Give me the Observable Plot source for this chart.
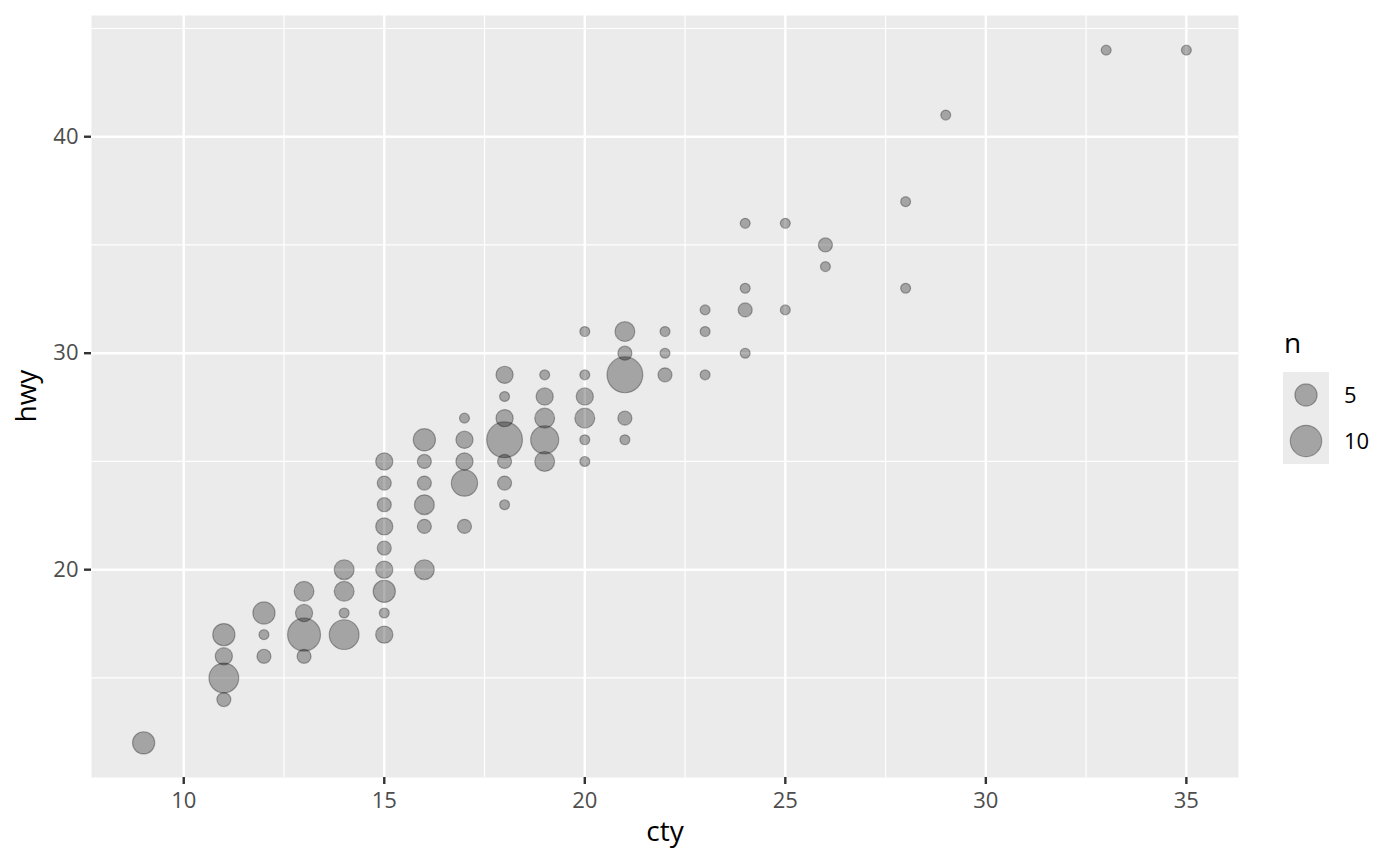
<!DOCTYPE html>
<html>
<head>
<meta charset="utf-8">
<script src="https://cdn.jsdelivr.net/npm/d3@7"></script>
<script src="https://cdn.jsdelivr.net/npm/@observablehq/plot@0.6"></script>
<style>
  body { margin: 0; background: white; }
  #chart { position: relative; width: 1400px; height: 866px; }
</style>
</head>
<body>
<div id="chart"></div>
<script>
// comptes (cty, hwy)
const cty = [9, 11, 11, 11, 11, 12, 12, 12, 13, 13, 13, 13, 14, 14, 14, 14,
  15, 15, 15, 15, 15, 15, 15, 15, 15, 16, 16, 16, 16, 16, 16, 17, 17, 17, 17, 17,
  18, 18, 18, 18, 18, 18, 18, 19, 19, 19, 19, 19, 20, 20, 20, 20, 20, 20,
  21, 21, 21, 21, 21, 22, 22, 22, 23, 23, 23, 24, 24, 24, 24, 25, 25, 26, 26,
  28, 28, 29, 33, 35]
const hwy = [12, 17, 16, 15, 14, 18, 17, 16, 19, 18, 17, 16, 20, 19, 18, 17,
  25, 24, 23, 22, 21, 20, 19, 18, 17, 26, 25, 24, 23, 22, 20, 27, 26, 25, 24, 22,
  29, 28, 27, 26, 25, 24, 23, 29, 28, 27, 26, 25, 31, 29, 28, 27, 26, 25,
  31, 30, 29, 27, 26, 31, 30, 29, 32, 31, 29, 36, 33, 32, 30, 36, 32, 35, 34,
  37, 33, 41, 44, 44]
const n = [5, 5, 3, 9, 2, 5, 1, 2, 4, 3, 11, 2, 4, 4, 1, 9,
  3, 2, 2, 3, 2, 3, 5, 1, 3, 5, 2, 2, 4, 2, 4, 1, 3, 3, 7, 2,
  3, 1, 3, 13, 2, 2, 1, 1, 3, 4, 8, 4, 1, 1, 3, 4, 1, 1,
  4, 2, 13, 2, 1, 1, 1, 2, 1, 1, 1, 1, 1, 2, 1, 1, 1, 2, 1,
  1, 1, 1, 1, 1]

const xTicks = [10, 15, 20, 25, 30, 35]
const xMinor = [12.5, 17.5, 22.5, 27.5, 32.5]
const yTicks = [20, 30, 40]
const yMinor = [15, 25, 35, 45]
const legendValues = [5, 10]

const counts = cty.map((c, i) => ({cty: c, hwy: hwy[i], n: n[i]}))

let chart = Plot.plot({
  width: 1400,
  height: 866,
  marginLeft: 91,
  marginRight: 162,
  marginTop: 15,
  marginBottom: 89,
  style: {fontFamily: "'Open Sans', 'Noto Sans', sans-serif", background: "white"},
  x: {domain: [7.7, 36.3]},
  y: {domain: [10.4, 45.6]},
  r: {type: "sqrt", domain: [0, 5], range: [0, 11.1]},
  marks: [
    Plot.frame({fill: "#ebebeb", stroke: null}),
    Plot.gridX(xMinor, {stroke: "white", strokeOpacity: 1, strokeWidth: 1.2}),
    Plot.gridY(yMinor, {stroke: "white", strokeOpacity: 1, strokeWidth: 1.2}),
    Plot.gridX(xTicks, {stroke: "white", strokeOpacity: 1, strokeWidth: 2.4}),
    Plot.gridY(yTicks, {stroke: "white", strokeOpacity: 1, strokeWidth: 2.4}),
    Plot.axisX(xTicks, {tickSize: 7, tickPadding: 8, fontSize: 22, stroke: "#333333", fill: "#4d4d4d", strokeWidth: 2.4, label: null}),
    Plot.axisY(yTicks, {tickSize: 7, tickPadding: 6, fontSize: 22, stroke: "#333333", fill: "#4d4d4d", strokeWidth: 2.4, label: null}),
    Plot.dot(counts, {
      x: "cty", y: "hwy", r: "n",
      fill: "black", fillOpacity: 0.3,
      stroke: "black", strokeOpacity: 0.3, strokeWidth: 1.2
    }),
    Plot.text(["cty"], {frameAnchor: "bottom", dy: 63, fontSize: 28, fill: "black"}),
    Plot.text(["hwy"], {frameAnchor: "left", dx: -64, dy: 26, rotate: -90, fontSize: 28, fill: "black"})
  ]
})

d3.select('#chart').append(() => chart)

/* légende des tailles, faite à la main avec l'échelle r du graphique */
const rScale = chart.scale("r")
const leg = d3.select(chart).append("g")
  .attr("font-family", "'Open Sans', 'Noto Sans', sans-serif")
  .attr("text-anchor", "start")

leg.append("text")
  .attr("x", 1284).attr("y", 353)
  .attr("font-size", 28)
  .attr("fill", "black")
  .text("n")

legendValues.forEach((v, i) => {
  const top = 372 + i * 46
  leg.append("rect")
    .attr("x", 1283).attr("y", top)
    .attr("width", 46).attr("height", 46)
    .attr("fill", "#ebebeb")
  leg.append("circle")
    .attr("cx", 1306).attr("cy", top + 23)
    .attr("r", rScale.apply(v))
    .attr("fill", "black").attr("fill-opacity", 0.3)
    .attr("stroke", "black").attr("stroke-opacity", 0.3).attr("stroke-width", 1.2)
  leg.append("text")
    .attr("x", 1344).attr("y", top + 23)
    .attr("dy", "0.35em")
    .attr("font-size", 22)
    .attr("fill", "black")
    .text(v)
})
</script>
</body>
</html>
